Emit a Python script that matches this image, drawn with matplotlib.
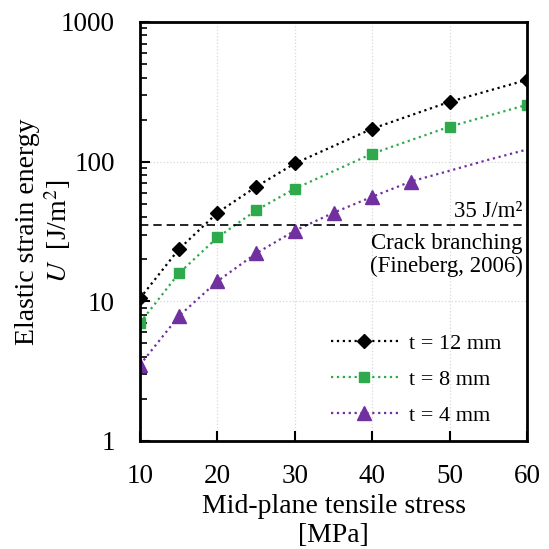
import numpy as np
import matplotlib
matplotlib.use('Agg')
import matplotlib.pyplot as plt
from matplotlib.ticker import LogLocator, NullFormatter

plt.rcParams['font.family'] = 'Liberation Serif'
plt.rcParams['mathtext.fontset'] = 'stix'

# data
stress_12 = [10, 15, 20, 25, 30, 40, 50, 60]
energy_12 = [10.5, 23.5, 43, 66, 97, 172, 268, 385]

stress_8 = [10, 15, 20, 25, 30, 40, 50, 60]
energy_8 = [7.0, 15.8, 28.6, 44.7, 64, 114, 178, 255]

# t = 4 mm: markers only up to 45 MPa, curve continues to 60
stress_4 = [10, 15, 20, 25, 30, 35, 40, 45, 50, 55, 60]
energy_4 = [3.5, 7.8, 13.9, 22, 32, 43, 56, 72, 86, 103, 122]
n_marked_4 = 8

branching = 35
x_ticks = [10, 20, 30, 40, 50, 60]
y_ticks = [1, 10, 100, 1000]

fig = plt.figure(figsize=(5.49, 5.49), dpi=100)
ax = fig.add_axes([0.255, 0.197, 0.705, 0.763])

ax.plot(stress_12, energy_12, color='black', linestyle=':', linewidth=1.6,
        marker='D', markersize=7.5, label='t = 12 mm')
ax.plot(stress_8, energy_8, color='#2eaa4c', linestyle=':', linewidth=1.6,
        marker='s', markersize=7.5, label='t = 8 mm')
ax.plot(stress_4, energy_4, color='#7030a0', linestyle=':', linewidth=1.6,
        marker='^', markersize=9.5, markevery=list(range(n_marked_4)), label='t = 4 mm')

ax.axhline(branching, color='black', linestyle=(0, (5, 3)), linewidth=1.2)
ax.text(59.4, branching * 1.06, '35 J/m²', ha='right', va='bottom', fontsize=16.5)
ax.text(59.4, branching * 0.88, 'Crack branching\n(Fineberg, 2006)', ha='right', va='top',
        fontsize=16.5, linespacing=1.1)

ax.set_yscale('log')
ax.set_xlim(10, 60)
ax.set_ylim(1, 1000)
ax.set_xticks(x_ticks)
ax.set_yticks(y_ticks)
ax.set_yticklabels([str(v) for v in y_ticks])
ax.yaxis.set_minor_locator(LogLocator(base=10, subs=np.arange(2, 10)))
ax.yaxis.set_minor_formatter(NullFormatter())

ax.tick_params(axis='both', which='major', direction='in', labelsize=19.5, length=7, width=1.5)
ax.tick_params(axis='y', which='minor', direction='in', length=5, width=1.2)
ax.tick_params(axis='y', which='major', pad=18)
ax.tick_params(axis='x', which='major', pad=17)
for s in ax.spines.values():
    s.set_linewidth(2)

ax.grid(True, which='major', color='#d8d8d8', linestyle=':', linewidth=0.9)

ax.set_xlabel('Mid-plane tensile stress\n[MPa]', fontsize=20, linespacing=1.22)
ax.set_ylabel('Elastic strain energy\n$U$  [J/m$^2$]', fontsize=20, linespacing=1.1)
ax.xaxis.set_label_coords(0.5, -0.127)
ax.yaxis.set_label_coords(-0.172, 0.5)

ax.legend(loc='lower right', bbox_to_anchor=(0.985, -0.012), frameon=False, fontsize=16,
          handlelength=3.0, handletextpad=0.5, labelspacing=0.7)

fig.savefig('out.png', dpi=100)
